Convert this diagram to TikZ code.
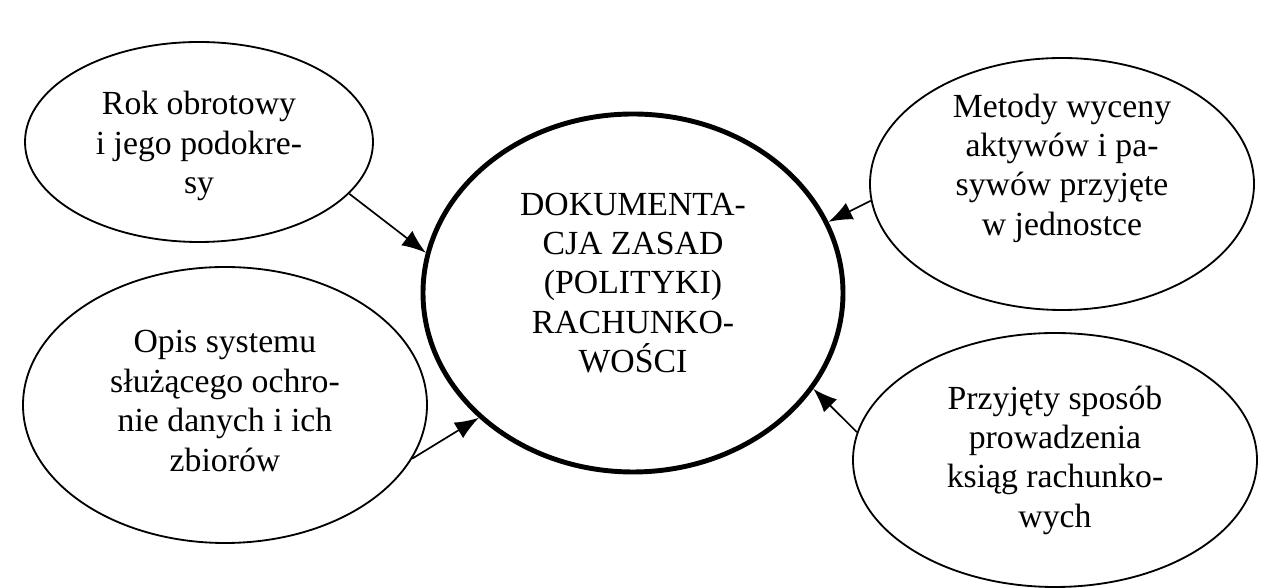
\documentclass[tikz,border=0pt]{standalone}
\usepackage{fontspec}
\setmainfont{Liberation Serif}
\usetikzlibrary{shapes.geometric,arrows.meta}
\begin{document}
\begin{tikzpicture}[
        owal/.style={draw, ellipse, line width=1.3pt, inner sep=0pt},
        napis/.style={align=center, font=\fontsize{24}{28}\selectfont},
        >={Latex[length=17pt,width=13pt]}]
    \useasboundingbox (0,0) rectangle (31.55,14.7);
    \node[owal, minimum width=8.7cm, minimum height=5cm] (rok) at (4.975,11.15) {};
    \node[owal, minimum width=10.1cm, minimum height=6.9cm] (opis) at (5.625,4.575) {};
    \node[owal, line width=3.5pt, minimum width=10.5cm, minimum height=8.95cm] (dok) at (15.825,7.375) {};
    \node[owal, minimum width=9.6cm, minimum height=6.3cm] (metody) at (26.55,10.1) {};
    \node[owal, minimum width=10.1cm, minimum height=6.35cm] (ksiegi) at (26.375,3.2) {};
    \node[napis] (rokT) at ([yshift=-0.1cm]rok) {Rok obrotowy\\i jego podokre-\\sy};
    \node[napis] (opisT) at ([yshift=0.1cm]opis) {Opis systemu\\służącego ochro-\\nie danych i ich\\zbiorów};
    \node[napis] (dokT) at ([yshift=0.25cm]dok) {DOKUMENTA-\\CJA ZASAD\\(POLITYKI)\\RACHUNKO-\\WOŚCI};
    \node[napis] (metodyT) at ([yshift=0.4cm]metody) {Metody wyceny\\aktywów i pa-\\sywów przyjęte\\w jednostce};
    \node[napis] (ksiegiT) at (ksiegi) {Przyjęty sposób\\prowadzenia\\ksiąg rachunko-\\wych};
    \draw[->, line width=1.2pt] (rok.-19) -- (dok.169);
    \draw[->, line width=1.2pt] (opis.-16) -- (dok.-141);
    \draw[->, line width=1.2pt] (metody.185) -- (dok.20);
    \draw[->, line width=1.2pt] (ksiegi.172) -- (dok.-28);
\end{tikzpicture}
\end{document}
